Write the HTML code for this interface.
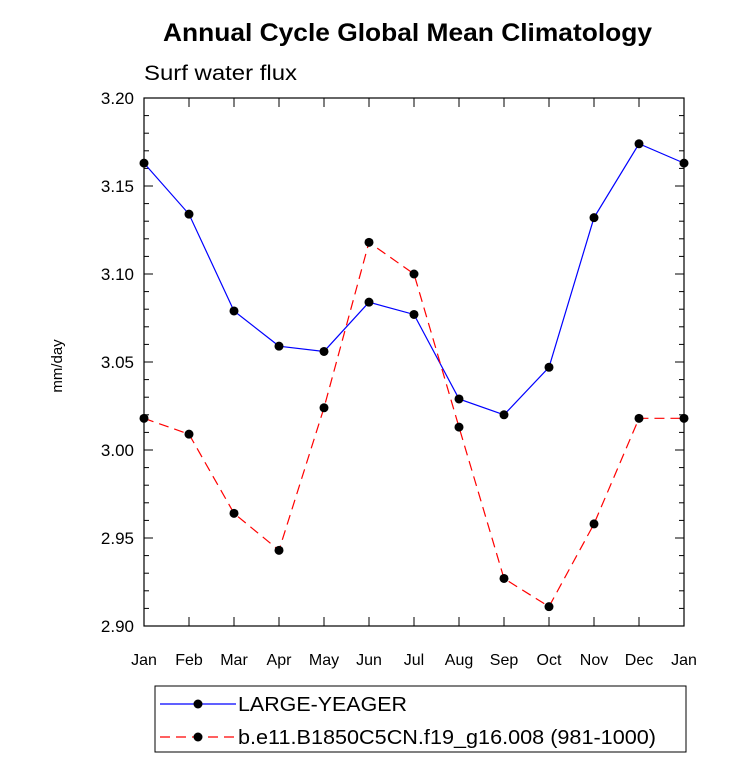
<!DOCTYPE html>
<html><head><meta charset="utf-8"><style>
body{margin:0;background:#fff;}
svg{font-family:"Liberation Sans",Arial,sans-serif;}
</style></head><body>
<svg id="chart" width="733" height="777" xmlns="http://www.w3.org/2000/svg">
<text x="163" y="41" textLength="489" lengthAdjust="spacingAndGlyphs" font-size="25" font-weight="bold">Annual Cycle Global Mean Climatology</text>
<text x="144" y="80" textLength="153" lengthAdjust="spacingAndGlyphs" font-size="21">Surf water flux</text>
<text transform="translate(62,366) rotate(-90)" text-anchor="middle" font-size="15">mm/day</text>
<g id="axes"></g>
<g id="series"></g>
<rect x="155" y="686" width="531" height="66" fill="none" stroke="#000" stroke-width="1"/>
<g>
<line x1="160" y1="704" x2="236" y2="704" stroke="#0000ff" stroke-width="1.2"/>
<circle cx="198" cy="704" r="4.5" fill="#000"/>
<text x="238" y="711" textLength="169" lengthAdjust="spacingAndGlyphs" font-size="20">LARGE-YEAGER</text>
</g>
<g>
<line x1="160" y1="737" x2="236" y2="737" stroke="#ff0000" stroke-width="1.2" stroke-dasharray="10,6"/>
<circle cx="198" cy="737" r="4.5" fill="#000"/>
<text x="238" y="744" textLength="418" lengthAdjust="spacingAndGlyphs" font-size="20">b.e11.B1850C5CN.f19_g16.008 (981-1000)</text>
</g>
</svg>
<script>
const months=["Jan","Feb","Mar","Apr","May","Jun","Jul","Aug","Sep","Oct","Nov","Dec","Jan"];
const yTicks=["2.90","2.95","3.00","3.05","3.10","3.15","3.20"];
const largeYeager=[3.163,3.134,3.079,3.059,3.056,3.084,3.077,3.029,3.020,3.047,3.132,3.174,3.163];
const b1850=[3.018,3.009,2.964,2.943,3.024,3.118,3.100,3.013,2.927,2.911,2.958,3.018,3.018];
const X0=144,X1=684,Y0=626,Y1=98,ymin=2.9,ymax=3.2;
const NS="http://www.w3.org/2000/svg";
const xs=i=>X0+(X1-X0)*i/(months.length-1);
const ys=v=>Y0-(v-ymin)/(ymax-ymin)*(Y0-Y1);
function mk(t,a,p){const e=document.createElementNS(NS,t);for(const k in a)e.setAttribute(k,a[k]);p.appendChild(e);return e;}
const ax=document.getElementById('axes');
const frame=mk('rect',{x:X0,y:Y1,width:X1-X0,height:Y0-Y1,fill:'none',stroke:'#000','stroke-width':1.2},ax);


for(let i=0;i<=30;i++){const v=ymin+i*0.01;const y=ys(v);const L=i%5==0?9:5;
 mk('line',{x1:X0,y1:y,x2:X0+L,y2:y,stroke:'#000'},ax);
 mk('line',{x1:X1,y1:y,x2:X1-L,y2:y,stroke:'#000'},ax);}
yTicks.forEach(s=>{const t=mk('text',{x:X0-10,y:ys(parseFloat(s))+6,'text-anchor':'end','font-size':17},ax);t.textContent=s;
 
 });
months.forEach((m,i)=>{const x=xs(i);
 mk('line',{x1:x,y1:Y0,x2:x,y2:Y0-9,stroke:'#000'},ax);
 mk('line',{x1:x,y1:Y1,x2:x,y2:Y1+9,stroke:'#000'},ax);
 const t=mk('text',{x:x,y:Y0+39,'text-anchor':'middle','font-size':16},ax);t.textContent=m;
 
 });
const sg=document.getElementById('series');
function draw(vals,color,dash,name){
 const g=mk('g',{},sg);
 
 
 const pts=vals.map((v,i)=>xs(i)+','+ys(v)).join(' ');
 const a={points:pts,fill:'none',stroke:color,'stroke-width':1.2};if(dash)a['stroke-dasharray']=dash;
 mk('polyline',a,g);
 vals.forEach((v,i)=>{const c=mk('circle',{cx:xs(i),cy:ys(v),r:4.5,fill:'#000'},g);
  
  });
}
draw(largeYeager,'#0000ff',null,'series-large-yeager');
draw(b1850,'#ff0000','10,6','series-b-e11');
</script>
</body></html>
